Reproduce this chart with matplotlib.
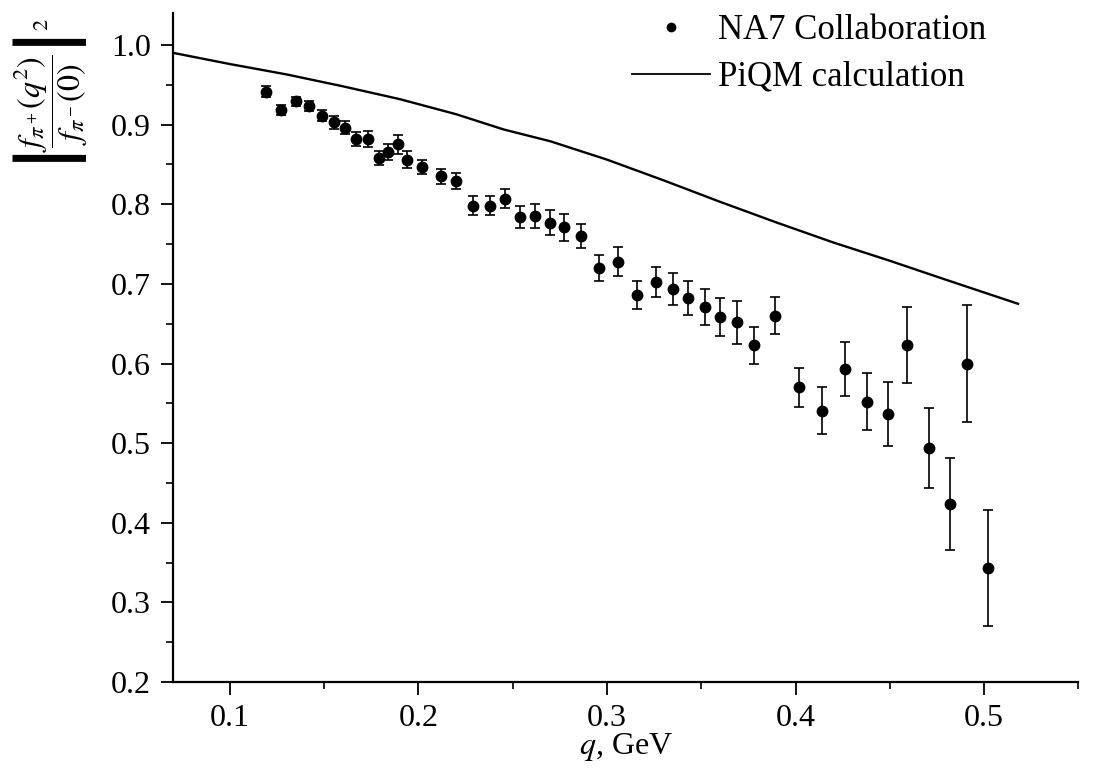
import numpy as np
import matplotlib
matplotlib.use("Agg")
import matplotlib.pyplot as plt
from matplotlib.lines import Line2D
from matplotlib.ticker import MultipleLocator

plt.rcParams['font.family'] = 'serif'
plt.rcParams['font.serif'] = ['Liberation Serif', 'DejaVu Serif']
plt.rcParams['mathtext.fontset'] = 'stix'

# NA7 data
q_data = [0.119, 0.127, 0.135, 0.142, 0.149, 0.155, 0.161, 0.167, 0.173, 0.179,
          0.184, 0.189, 0.194, 0.202, 0.212, 0.220, 0.229, 0.238, 0.246, 0.254,
          0.262, 0.270, 0.277, 0.286, 0.296, 0.306, 0.316, 0.326, 0.335, 0.343,
          0.352, 0.360, 0.369, 0.378, 0.389, 0.402, 0.414, 0.426, 0.438, 0.449,
          0.459, 0.471, 0.482, 0.491, 0.502]
f_data = [0.941, 0.918, 0.929, 0.923, 0.911, 0.903, 0.896, 0.882, 0.882, 0.858,
          0.865, 0.875, 0.856, 0.847, 0.835, 0.829, 0.798, 0.798, 0.807, 0.784,
          0.785, 0.777, 0.771, 0.760, 0.720, 0.728, 0.686, 0.702, 0.694, 0.682,
          0.671, 0.658, 0.652, 0.623, 0.660, 0.570, 0.541, 0.593, 0.552, 0.537,
          0.623, 0.494, 0.424, 0.600, 0.343]
f_err = [0.007, 0.006, 0.006, 0.006, 0.007, 0.008, 0.008, 0.009, 0.010, 0.009,
         0.010, 0.012, 0.011, 0.009, 0.009, 0.010, 0.012, 0.012, 0.012, 0.014,
         0.015, 0.016, 0.017, 0.015, 0.016, 0.018, 0.017, 0.019, 0.020, 0.021,
         0.023, 0.024, 0.027, 0.023, 0.023, 0.024, 0.030, 0.034, 0.036, 0.040,
         0.048, 0.050, 0.058, 0.074, 0.073]

# PiQM calculation
q_theory = [0.07, 0.10, 0.13, 0.16, 0.19, 0.22, 0.245, 0.27, 0.30, 0.33,
            0.36, 0.39, 0.42, 0.45, 0.48, 0.518]
f_theory = [0.990, 0.976, 0.963, 0.948, 0.932, 0.913, 0.894, 0.879, 0.856, 0.830,
            0.803, 0.777, 0.752, 0.729, 0.705, 0.675]

fig = plt.figure(figsize=(10.97, 7.69), dpi=100)
ax = fig.add_axes([0.158, 0.113, 0.825, 0.870])

ax.plot(q_theory, f_theory, color='black', lw=1.7)
ax.errorbar(q_data, f_data, yerr=f_err, fmt='o', color='black', ms=7.5,
            elinewidth=1.2, capsize=3.5, capthick=1.2)

ax.set_xlim(0.07, 0.55)
ax.set_ylim(0.2, 1.04)
ax.xaxis.set_major_locator(MultipleLocator(0.1))
ax.xaxis.set_minor_locator(MultipleLocator(0.05))
ax.yaxis.set_major_locator(MultipleLocator(0.1))
ax.yaxis.set_minor_locator(MultipleLocator(0.05))
ax.xaxis.set_major_formatter(plt.FormatStrFormatter('%.1f'))
ax.yaxis.set_major_formatter(plt.FormatStrFormatter('%.1f'))

ax.spines['top'].set_visible(False)
ax.spines['right'].set_visible(False)
ax.spines['left'].set_linewidth(1.6)
ax.spines['bottom'].set_linewidth(1.6)
ax.tick_params(which='major', direction='out', length=9, width=1.3, labelsize=23)
ax.tick_params(axis='x', which='major', pad=7)
ax.tick_params(axis='y', which='major', pad=7)
ax.tick_params(which='minor', direction='out', length=5, width=1.2)

ax.set_xlabel(r'$q$, GeV', fontsize=23, labelpad=-2)
ax.set_ylabel(r'$\left|\dfrac{f_{\pi^+}(q^2)}{f_{\pi^-}(0)}\right|^2$', fontsize=23)
ax.yaxis.set_label_coords(-0.092, 0.88)

handles = [Line2D([], [], marker='o', ms=6, color='black', ls='none'),
           Line2D([], [], color='black', lw=1.3)]
ax.legend(handles, ['NA7 Collaboration', 'PiQM calculation'], frameon=False,
          fontsize=25, loc='upper left', bbox_to_anchor=(0.576, 0.982),
          bbox_transform=fig.transFigure, borderpad=0, borderaxespad=0,
          handlelength=2.25, handletextpad=0.23, labelspacing=0.4)

fig.savefig('out.png', dpi=100)
